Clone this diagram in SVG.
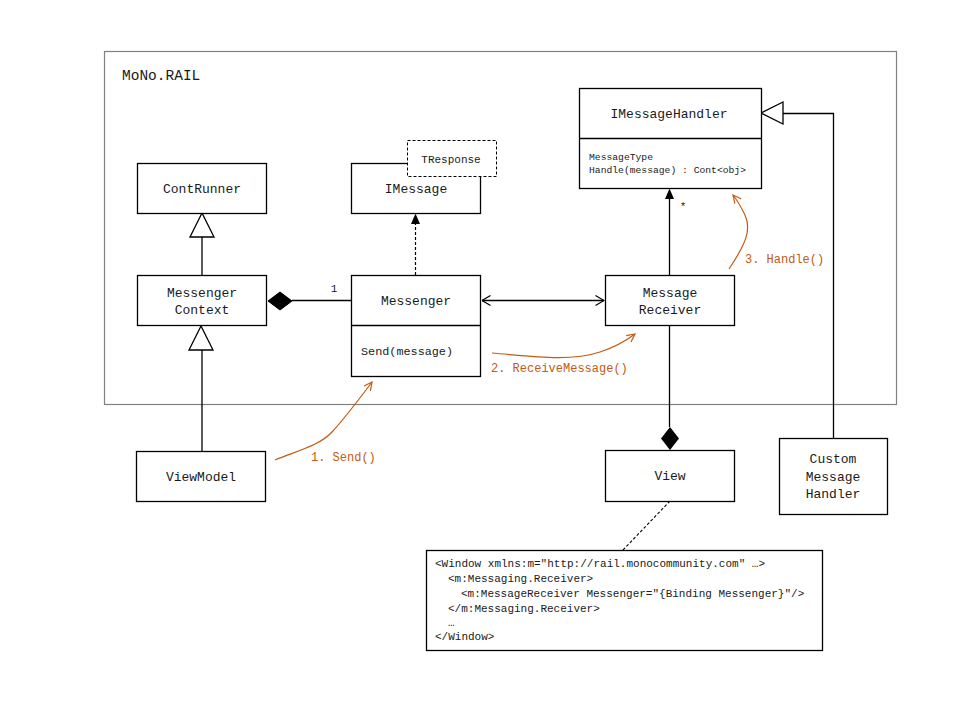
<svg xmlns="http://www.w3.org/2000/svg" width="960" height="720" viewBox="0 0 960 720">
<style>
.box{fill:#fff;stroke:#000;stroke-width:1.3}
.t{font-family:"Liberation Mono","DejaVu Sans Mono",monospace;font-size:13px;fill:#1a1a1a;text-anchor:middle}
.s{font-family:"Liberation Mono","DejaVu Sans Mono",monospace;font-size:9.7px;fill:#1a1a1a}
.m{font-family:"Liberation Mono","DejaVu Sans Mono",monospace;font-size:11.8px;fill:#1a1a1a}
.x{font-family:"Liberation Mono","DejaVu Sans Mono",monospace;font-size:11px;fill:#1a1a1a}
.o{font-family:"Liberation Mono","DejaVu Sans Mono",monospace;font-size:12px;fill:#C55A11}
.ln{fill:none;stroke:#000;stroke-width:1.3}
.or{fill:none;stroke:#C55A11;stroke-width:1.2}
</style>
<defs>
<marker id="ov" viewBox="0 0 10 10" refX="9" refY="5" markerWidth="10" markerHeight="10" markerUnits="userSpaceOnUse" orient="auto">
<path d="M1,1 L9,5 L1,9" fill="none" stroke="#C55A11" stroke-width="1.2"/>
</marker>
<marker id="bv" viewBox="0 0 10 12" refX="9.5" refY="6" markerWidth="10" markerHeight="12" markerUnits="userSpaceOnUse" orient="auto-start-reverse">
<path d="M1,1 L9.5,6 L1,11" fill="none" stroke="#000" stroke-width="1.2"/>
</marker>
</defs>
<rect width="960" height="720" fill="#fff"/>
<g id="frame">
<rect x="104.5" y="51.5" width="792" height="353" fill="none" stroke="#808080" stroke-width="1.2"/>
<text x="122" y="80" style="font-family:'Liberation Mono','DejaVu Sans Mono',monospace;font-size:14.5px;fill:#1a1a1a">MoNo.RAIL</text>
</g>
<g id="connectors">
<line class="ln" x1="202" y1="275" x2="202" y2="237"/>
<polygon points="202,213 190,237 214,237" fill="#fff" stroke="#000" stroke-width="1.3"/>
<line class="ln" x1="202" y1="451" x2="202" y2="350"/>
<polygon points="201,326 189,350 213,350" fill="#fff" stroke="#000" stroke-width="1.3"/>
<line class="ln" x1="292" y1="300.5" x2="351" y2="300.5"/>
<polygon points="268,301 280,292 292,301 280,310" fill="#000" stroke="#000" stroke-width="1"/>
<text x="334" y="292" class="x" style="text-anchor:middle">1</text>
<line x1="415.5" y1="275" x2="415.5" y2="224" stroke="#000" stroke-width="1.2" stroke-dasharray="3,2"/>
<polygon points="415.5,213.5 411,224 420,224" fill="#000"/>
<line x1="482" y1="300.5" x2="604" y2="300.5" stroke="#000" stroke-width="1.3" marker-start="url(#bv)" marker-end="url(#bv)"/>
<line class="ln" x1="669.5" y1="275" x2="669.5" y2="199"/>
<polygon points="669.5,188.5 665,199 674,199" fill="#000"/>
<text x="683" y="210" class="x" style="text-anchor:middle">*</text>
<line class="ln" x1="669.5" y1="325" x2="669.5" y2="427"/>
<polygon points="670,427 679,438.5 670,450 661,438.5" fill="#000"/>
<polyline class="ln" points="833.5,438 833.5,113.5 783,113.5"/>
<polygon points="761,113 783,102 783,124" fill="#fff" stroke="#000" stroke-width="1.3"/>
<line x1="670" y1="501" x2="623" y2="550" stroke="#000" stroke-width="1.1" stroke-dasharray="3,2"/>
<path class="or" d="M275,460 C300,450 320,445 332,432 C345,418 360,398 372,382" marker-end="url(#ov)"/>
<text x="311" y="461" class="o">1. Send()</text>
<path class="or" d="M492,353 C530,356 570,362 600,352 C615,347 627,340 635,334" marker-end="url(#ov)"/>
<text x="491" y="372" class="o">2. ReceiveMessage()</text>
<path class="or" d="M729,269 C745,245 752,230 745,215 C741,207 737,200 733,195" marker-end="url(#ov)"/>
<text x="745" y="263" class="o">3. Handle()</text>
</g>
<g id="ContRunner">
<rect class="box" x="137.5" y="163.5" width="129" height="50"/>
<text class="t" x="202" y="193">ContRunner</text>
</g>
<g id="MessengerContext">
<rect class="box" x="137.5" y="275.5" width="129" height="50"/>
<text class="t" x="202" y="297">Messenger</text>
<text class="t" x="202" y="314">Context</text>
</g>
<g id="ViewModel">
<rect class="box" x="136.5" y="451.5" width="129" height="50"/>
<text class="t" x="201" y="481">ViewModel</text>
</g>
<g id="IMessage">
<rect class="box" x="351.5" y="163.5" width="129" height="50"/>
<text class="t" x="416" y="193">IMessage</text>
<rect x="407.5" y="140.5" width="89" height="36" fill="#fff" stroke="#000" stroke-width="1" stroke-dasharray="3,2"/>
<text x="451" y="163" style="font-family:'Liberation Mono','DejaVu Sans Mono',monospace;font-size:11px;fill:#1a1a1a;text-anchor:middle">TResponse</text>
</g>
<g id="Messenger">
<rect class="box" x="351.5" y="275.5" width="129" height="101"/>
<line class="ln" x1="351.5" y1="325.5" x2="480.5" y2="325.5"/>
<text class="t" x="416" y="305">Messenger</text>
<text class="m" x="361" y="355">Send(message)</text>
</g>
<g id="MessageReceiver">
<rect class="box" x="605.5" y="275.5" width="129" height="50"/>
<text class="t" x="670" y="297">Message</text>
<text class="t" x="670" y="314">Receiver</text>
</g>
<g id="IMessageHandler">
<rect class="box" x="579.5" y="88.5" width="182" height="100"/>
<line class="ln" x1="579.5" y1="138.5" x2="761.5" y2="138.5"/>
<text class="t" x="669" y="118">IMessageHandler</text>
<text class="s" x="589" y="160">MessageType</text>
<text class="s" x="589" y="172.5">Handle(message) : Cont&lt;obj&gt;</text>
</g>
<g id="View">
<rect class="box" x="605.5" y="450.5" width="129" height="51"/>
<text class="t" x="670" y="480">View</text>
</g>
<g id="CustomMessageHandler">
<rect class="box" x="779.5" y="438.5" width="108" height="76"/>
<text class="t" x="833" y="463">Custom</text>
<text class="t" x="833" y="481">Message</text>
<text class="t" x="833" y="498">Handler</text>
</g>
<g id="XamlNote">
<rect class="box" x="426.5" y="550.5" width="396" height="100"/>
<text class="x" x="435" y="567">&lt;Window xmlns:m="http://rail.monocommunity.com" …&gt;</text>
<text class="x" x="448" y="582">&lt;m:Messaging.Receiver&gt;</text>
<text class="x" x="461" y="597">&lt;m:MessageReceiver Messenger="{Binding Messenger}"/&gt;</text>
<text class="x" x="448" y="612">&lt;/m:Messaging.Receiver&gt;</text>
<text class="x" x="448" y="626">…</text>
<text class="x" x="435" y="640">&lt;/Window&gt;</text>
</g>
</svg>
